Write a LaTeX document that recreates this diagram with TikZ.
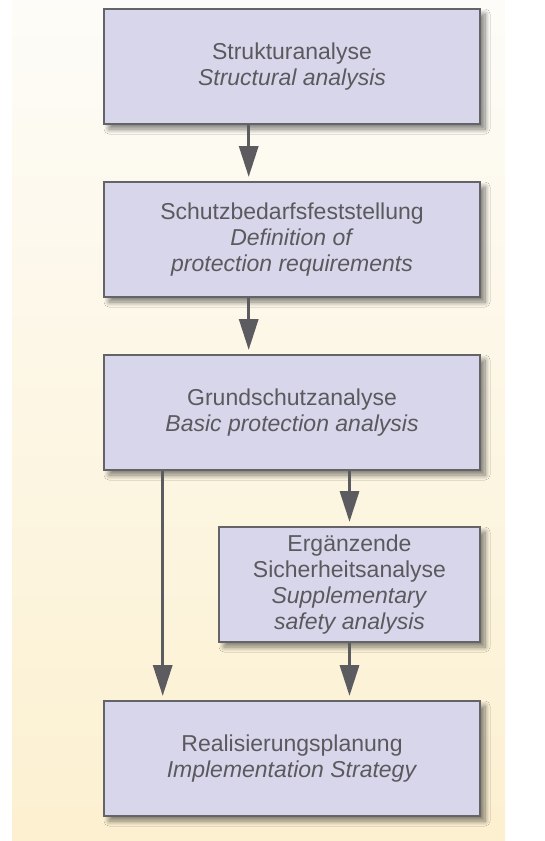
\documentclass[tikz,border=0pt]{standalone}
\usepackage{fontspec}
\setmainfont{Liberation Sans}
\usetikzlibrary{arrows.meta,shadows.blur}
\definecolor{boxfill}{RGB}{216,214,234}
\definecolor{boxline}{RGB}{100,100,104}
\definecolor{ink}{RGB}{90,90,94}
\definecolor{arrowgray}{RGB}{92,92,96}
\definecolor{paneltop}{RGB}{253,252,248}
\definecolor{panelbottom}{RGB}{252,240,208}

\begin{document}
\begin{tikzpicture}[x=1pt,y=-1pt,
  stagebox/.style={draw=boxline, line width=2pt, fill=boxfill, text=ink,
    align=center, minimum height=115pt, inner sep=0pt,
    font=\fontsize{23}{26}\selectfont,
    blur shadow={shadow xshift=5pt, shadow yshift=-5pt,
      shadow blur radius=5pt, shadow blur steps=10, shadow opacity=50}},
  wide/.style={minimum width=376pt},
  narrow/.style={minimum width=261pt},
  flow/.style={draw=arrowgray, line width=3.3pt,
    -{Triangle[length=31pt,width=19pt]}, shorten >=4pt}
]
\useasboundingbox (0,0) rectangle (544,841);

% background panel
\fill[top color=paneltop, bottom color=panelbottom] (12,0) rectangle (505,840);

% process stages
\node[stagebox,wide] (b1) at (292,66.5)
  {Strukturanalyse\\\textit{Structural analysis}};
\node[stagebox,wide] (b2) at (292,239.5)
  {Schutzbedarfsfeststellung\\\textit{Definition of}\\\textit{protection requirements}};
\node[stagebox,wide] (b3) at (292,412.5)
  {Grundschutzanalyse\\\textit{Basic protection analysis}};
\node[stagebox,narrow] (b4) at (349.5,584.5)
  {Ergänzende\\Sicherheitsanalyse\\\textit{Supplementary}\\\textit{safety analysis}};
\node[stagebox,wide] (b5) at (292,758.5)
  {Realisierungsplanung\\\textit{Implementation Strategy}};

% flow arrows
\draw[flow] ([xshift=-43.3pt]b1.south) -- ([xshift=-43.3pt]b2.north);
\draw[flow] ([xshift=-43.3pt]b2.south) -- ([xshift=-43.3pt]b3.north);
\draw[flow] (b3.south -| b4.north) -- (b4.north);
\draw[flow] (b4.south) -- (b5.north -| b4.south);
\draw[flow] ([xshift=-129.3pt]b3.south) -- ([xshift=-129.3pt]b5.north);
\end{tikzpicture}
\end{document}
